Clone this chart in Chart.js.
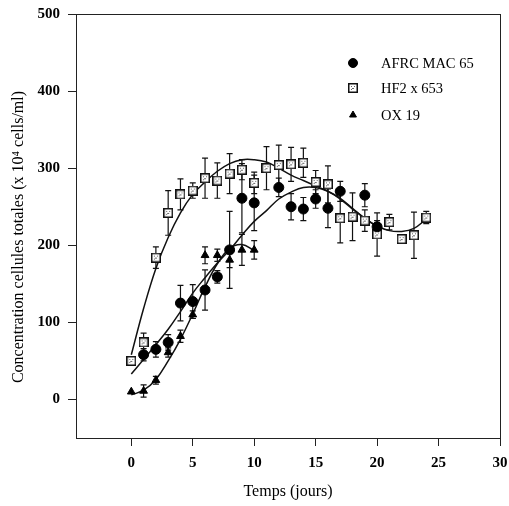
<!DOCTYPE html>
<html>
<head>
<meta charset="utf-8">
<script src="https://cdn.jsdelivr.net/npm/chart.js@4"></script>
<style>
    html, body { margin: 0; padding: 0; background: #fff; }
    #wrap { width: 509px; height: 506px; }
</style>
</head>
<body>
<div id="wrap"><canvas id="growthChart"></canvas></div>
<script>
// --- Data ---
const hf2Days = [0, 1, 2, 3, 4, 5, 6, 7, 8, 9, 10, 11, 12, 13, 14, 15, 16, 17, 18, 19, 20, 21, 22, 23, 24];
const hf2Values = [50, 74, 184, 242, 266, 271, 287, 284, 293, 298, 281, 300, 304, 305, 307, 282, 279, 235, 237, 232, 214, 230, 208, 213, 236];
const hf2Errors = [4, 12, 14, 29, 20, 10, 26, 23, 26, 13, 14, 28, 26, 22, 19, 15, 24, 32, 31, 14, 28, 10, 5, 30, 8];

const afrcDays = [1, 2, 3, 4, 5, 6, 7, 8, 9, 10, 12, 13, 14, 15, 16, 17, 19, 20];
const afrcValues = [58, 65, 74, 125, 127, 142, 159, 194, 261, 255, 275, 250, 247, 260, 248, 270, 265, 224];
const afrcErrors = [8, 10, 10, 23, 22, 26, 8, 50, 45, 36, 12, 17, 15, 12, 25, 13, 15, 8];

const oxDays = [0, 1, 2, 3, 4, 5, 6, 7, 8, 9, 10];
const oxValues = [10, 11, 25, 61, 82, 110, 187, 187, 181, 194, 194];
const oxErrors = [0, 8, 5, 6, 8, 5, 11, 8, 10, 20, 12];

// fitted curves, sampled from the figure
const hf2FitDays = [0, 1, 2, 3, 4, 5, 6, 7, 8, 9, 10, 11, 12, 13, 14, 15, 16, 17, 18, 19, 20, 21, 22, 23, 24];
const hf2FitValues = [58, 118, 170, 210, 242, 266, 282, 296, 306, 311, 311, 308, 300, 291, 284, 277, 270, 261, 248, 235, 225, 219, 218, 222, 234];
const afrcFitDays = [0, 1, 2, 3, 4, 5, 6, 7, 8, 9, 10, 11, 12, 13, 14, 15, 16, 17, 18, 19, 20];
const afrcFitValues = [33, 52, 71, 91, 114, 138, 158, 177, 194, 213, 231, 245, 260, 269, 275, 275, 270, 260, 247, 235, 224];
const oxFitDays = [0, 1, 2, 3, 4, 5, 6, 7, 8, 9, 10];
const oxFitValues = [6, 12, 26, 50, 78, 111, 146, 176, 196, 201, 193];

const xTicks = [0, 5, 10, 15, 20, 25, 30];
const yTicks = [0, 100, 200, 300, 400, 500];

const seriesLabels = ['AFRC MAC 65', 'HF2 x 653', 'OX 19'];
const yTitle = 'Concentration cellules totales (x 10\u2074 cells/ml)';

const FONT = 'Liberation Serif, Times New Roman, serif';

// --- Helpers ---
function toPoints(xs, ys) {
    return xs.map((x, i) => ({ x: x, y: ys[i] }));
}

// open square marker with a speckled inside, like the scanned one
function makeSquareMarker() {
    const c = document.createElement('canvas');
    c.width = 10; c.height = 10;
    const g = c.getContext('2d');
    g.fillStyle = '#fff';
    g.fillRect(0, 0, 10, 10);
    g.strokeStyle = '#111';
    g.lineWidth = 1.5;
    g.strokeRect(0.75, 0.75, 8.5, 8.5);
    g.fillStyle = '#666';
    g.fillRect(3, 3, 1, 1);
    g.fillRect(6, 3, 1, 1);
    g.fillRect(4, 5, 2, 1);
    g.fillRect(3, 6, 1, 1);
    return c;
}
const squareMarker = makeSquareMarker();

// --- Plugins ---
const errorBars = {
    id: 'errorBars',
    beforeDatasetsDraw(chart) {
        const ctx = chart.ctx;
        const xs = chart.scales.x, ys = chart.scales.y;
        ctx.save();
        ctx.strokeStyle = '#111';
        ctx.lineWidth = 1.2;
        chart.data.datasets.forEach(ds => {
            if (!ds.errors) return;
            ds.data.forEach((p, i) => {
                const e = ds.errors[i];
                if (!e) return;
                const px = xs.getPixelForValue(p.x);
                const top = ys.getPixelForValue(p.y + e);
                const bot = ys.getPixelForValue(p.y - e);
                ctx.beginPath();
                ctx.moveTo(px, top); ctx.lineTo(px, bot);
                ctx.moveTo(px - 3, top); ctx.lineTo(px + 3, top);
                ctx.moveTo(px - 3, bot); ctx.lineTo(px + 3, bot);
                ctx.stroke();
            });
        });
        ctx.restore();
    }
};

// full frame round the plot + rotated y title
const frameBox = {
    id: 'frameBox',
    afterDraw(chart) {
        const a = chart.chartArea;
        const ctx = chart.ctx;
        ctx.save();
        ctx.strokeStyle = '#222';
        ctx.lineWidth = 1;
        ctx.strokeRect(a.left + 0.5, a.top + 0.5, a.right - a.left, a.bottom - a.top);

        ctx.translate(19, 237);
        ctx.rotate(-Math.PI / 2);
        ctx.font = '16px ' + FONT;
        ctx.fillStyle = '#000';
        ctx.textAlign = 'center';
        ctx.textBaseline = 'middle';
        ctx.fillText(yTitle, 0, 0);
        ctx.restore();
    }
};

// legend inside the plot, top right
const insideLegend = {
    id: 'insideLegend',
    afterDraw(chart) {
        const ctx = chart.ctx;
        const rows = [63, 88, 115];
        ctx.save();
        ctx.font = '14.5px ' + FONT;
        ctx.fillStyle = '#000';
        ctx.textBaseline = 'middle';
        chart.data.datasets.filter(ds => ds.errors).forEach((ds, i) => {
            Chart.helpers.drawPoint(ctx, {
                pointStyle: ds.pointStyle,
                radius: i === 2 ? 4 : 4.5,
                rotation: 0,
                borderWidth: 1
            }, 353, rows[i]);
            ctx.fillStyle = '#000';
            ctx.fillText(ds.label, 381, rows[i] + 1);
        });
        ctx.restore();
    }
};

// --- Chart ---
document.addEventListener('DOMContentLoaded', () => {
    const ctx = document.getElementById('growthChart').getContext('2d');

    new Chart(ctx, {
        type: 'scatter',
        data: {
            datasets: [
                {
                    label: seriesLabels[0],
                    data: toPoints(afrcDays, afrcValues),
                    errors: afrcErrors,
                    pointStyle: 'circle',
                    pointRadius: 5,
                    backgroundColor: '#000',
                    borderColor: '#000',
                    borderWidth: 1,
                    order: 1
                },
                {
                    label: seriesLabels[1],
                    data: toPoints(hf2Days, hf2Values),
                    errors: hf2Errors,
                    pointStyle: squareMarker,
                    pointRadius: 5,
                    backgroundColor: '#fff',
                    borderColor: '#000',
                    order: 1
                },
                {
                    label: seriesLabels[2],
                    data: toPoints(oxDays, oxValues),
                    errors: oxErrors,
                    pointStyle: 'triangle',
                    pointRadius: 4.5,
                    backgroundColor: '#000',
                    borderColor: '#000',
                    borderWidth: 1,
                    order: 1
                },
                {
                    label: 'fit AFRC',
                    data: toPoints(afrcFitDays, afrcFitValues),
                    showLine: true,
                    pointRadius: 0,
                    borderColor: '#111',
                    borderWidth: 1.5,
                    tension: 0.4,
                    order: 2
                },
                {
                    label: 'fit HF2',
                    data: toPoints(hf2FitDays, hf2FitValues),
                    showLine: true,
                    pointRadius: 0,
                    borderColor: '#111',
                    borderWidth: 1.5,
                    tension: 0.4,
                    order: 2
                },
                {
                    label: 'fit OX',
                    data: toPoints(oxFitDays, oxFitValues),
                    showLine: true,
                    pointRadius: 0,
                    borderColor: '#111',
                    borderWidth: 1.5,
                    tension: 0.4,
                    order: 2
                }
            ]
        },
        options: {
            responsive: true,
            maintainAspectRatio: false,
            animation: false,
            layout: { padding: { left: 0, top: 14, right: 9, bottom: 0 } },
            plugins: {
                legend: { display: false },
                tooltip: { enabled: false }
            },
            scales: {
                x: {
                    type: 'linear',
                    min: -4.5,
                    max: 30,
                    afterBuildTicks: s => { s.ticks = xTicks.map(v => ({ value: v })); },
                    afterFit: s => { s.height = 68; s.paddingLeft = 0; s.paddingRight = 0; },
                    ticks: { color: '#000', font: { family: FONT, size: 15, weight: 'bold' }, padding: 8, maxRotation: 0 },
                    grid: { drawOnChartArea: false, tickLength: 8, color: '#222' },
                    border: { color: '#222' },
                    title: {
                        display: true,
                        text: 'Temps (jours)',
                        color: '#000',
                        font: { family: FONT, size: 16 },
                        padding: { top: 0, bottom: 5 }
                    }
                },
                y: {
                    type: 'linear',
                    min: -50,
                    max: 500,
                    afterBuildTicks: s => { s.ticks = yTicks.map(v => ({ value: v })); },
                    afterFit: s => { s.width = 76; s.paddingTop = 0; s.paddingBottom = 0; },
                    ticks: { color: '#000', font: { family: FONT, size: 15, weight: 'bold' }, padding: 8 },
                    grid: { drawOnChartArea: false, tickLength: 8, color: '#222' },
                    border: { color: '#222' }
                }
            }
        },
        plugins: [errorBars, frameBox, insideLegend]
    });
});
</script>
</body>
</html>
